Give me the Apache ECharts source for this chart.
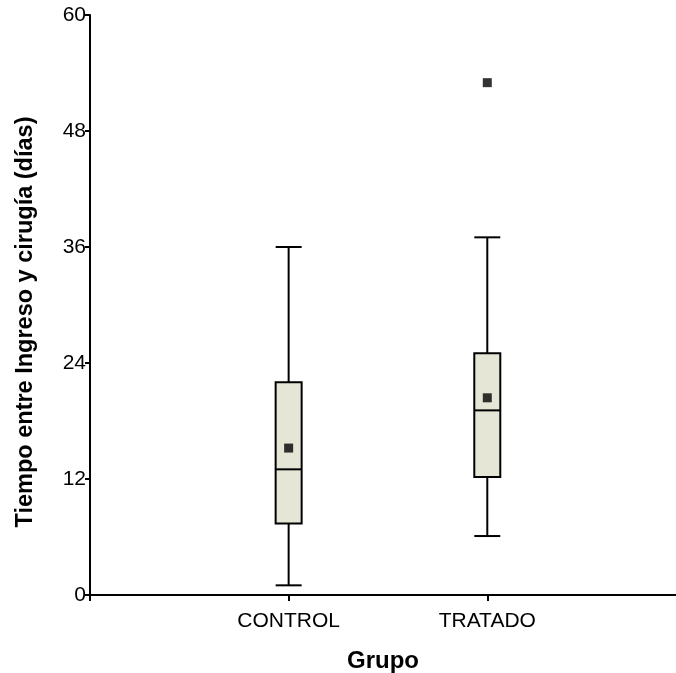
<!DOCTYPE html>
<html>
<head>
<meta charset="utf-8">
<script src="https://cdn.jsdelivr.net/npm/echarts@6/dist/echarts.min.js"></script>
<style>
  html, body { margin: 0; padding: 0; background: #fff; }
  #chart { width: 676px; height: 673px; }
</style>
</head>
<body>
<div id="chart"></div>
<script>
// groups and their positions on the x axis
const groups = ['CONTROL', 'TRATADO'];
const groupPos = [1, 2];

// box plot stats (days)
const whiskerLow = [1, 6.1];
const q1 = [7.4, 12.2];
const median = [13, 19.1];
const q3 = [22, 25];
const whiskerHigh = [36, 37];
const means = [15.2, 20.4];

// outliers: [group position, value]
const outliers = [[2, 53]];

const yTicks = [0, 12, 24, 36, 48, 60];

const FONT = "'Liberation Sans', Arial, sans-serif";

const chart = echarts.init(document.getElementById('chart'));

const boxData = groups.map((g, i) => [groupPos[i], whiskerLow[i], q1[i], median[i], q3[i], whiskerHigh[i]]);
const meanData = groups.map((g, i) => [groupPos[i], means[i]]);

function renderBox(params, api) {
  const x = api.value(0);
  const lo = api.coord([x, api.value(1)]);
  const b1 = api.coord([x, api.value(2)]);
  const md = api.coord([x, api.value(3)]);
  const b3 = api.coord([x, api.value(4)]);
  const hi = api.coord([x, api.value(5)]);
  const half = 13;
  const cx = lo[0];
  const line = { stroke: '#000', lineWidth: 2 };
  return {
    type: 'group',
    children: [
      { type: 'line', shape: { x1: cx, y1: hi[1], x2: cx, y2: b3[1] }, style: line },
      { type: 'line', shape: { x1: cx, y1: b1[1], x2: cx, y2: lo[1] }, style: line },
      { type: 'line', shape: { x1: cx - half, y1: hi[1], x2: cx + half, y2: hi[1] }, style: line },
      { type: 'line', shape: { x1: cx - half, y1: lo[1], x2: cx + half, y2: lo[1] }, style: line },
      { type: 'rect', shape: { x: cx - half, y: b3[1], width: half * 2, height: b1[1] - b3[1] },
        style: { fill: '#e6e6d6', stroke: '#000', lineWidth: 2 } },
      { type: 'line', shape: { x1: cx - half, y1: md[1], x2: cx + half, y2: md[1] }, style: line }
    ]
  };
}

const option = {
  animation: false,
  backgroundColor: '#fff',
  grid: { left: 90, right: 0, top: 15, bottom: 78, outerBoundsMode: 'none', containLabel: false },
  xAxis: {
    type: 'value',
    min: 0,
    max: 2.95,
    interval: 1,
    name: 'Grupo',
    nameLocation: 'middle',
    nameGap: 54,
    nameTextStyle: { fontFamily: FONT, fontSize: 24, fontWeight: 'bold', color: '#000' },
    axisLine: { lineStyle: { color: '#000', width: 2 } },
    axisTick: { show: true, length: 6, customValues: [0, 1, 2], lineStyle: { color: '#000', width: 2 } },
    axisLabel: {
      customValues: groupPos,
      formatter: v => groups[groupPos.indexOf(v)] || '',
      fontFamily: FONT, fontSize: 21, color: '#000', margin: 16
    },
    splitLine: { show: false }
  },
  yAxis: {
    type: 'value',
    min: 0,
    max: 60,
    interval: 12,
    axisLine: { show: true, lineStyle: { color: '#000', width: 2 } },
    axisTick: { show: true, length: 5, lineStyle: { color: '#000', width: 2 } },
    axisLabel: {
      customValues: yTicks,
      fontFamily: FONT, fontSize: 21, color: '#000', margin: 4
    },
    splitLine: { show: false }
  },
  graphic: [{
    type: 'text',
    x: 26,
    y: 322,
    rotation: Math.PI / 2,
    style: {
      text: 'Tiempo entre Ingreso y cirugía (días)',
      font: 'bold 23.5px ' + FONT,
      fill: '#000',
      align: 'center',
      verticalAlign: 'middle'
    }
  }],
  series: [
    {
      type: 'custom',
      renderItem: renderBox,
      data: boxData,
      encode: { x: 0, y: [1, 2, 3, 4, 5] },
      z: 2
    },
    {
      type: 'scatter',
      data: meanData,
      symbol: 'rect',
      symbolSize: 9,
      itemStyle: { color: '#000' },
      z: 3
    },
    {
      type: 'scatter',
      data: outliers,
      symbol: 'rect',
      symbolSize: 9,
      itemStyle: { color: '#000' },
      z: 3
    }
  ]
};

chart.setOption(option);
</script>
</body>
</html>
